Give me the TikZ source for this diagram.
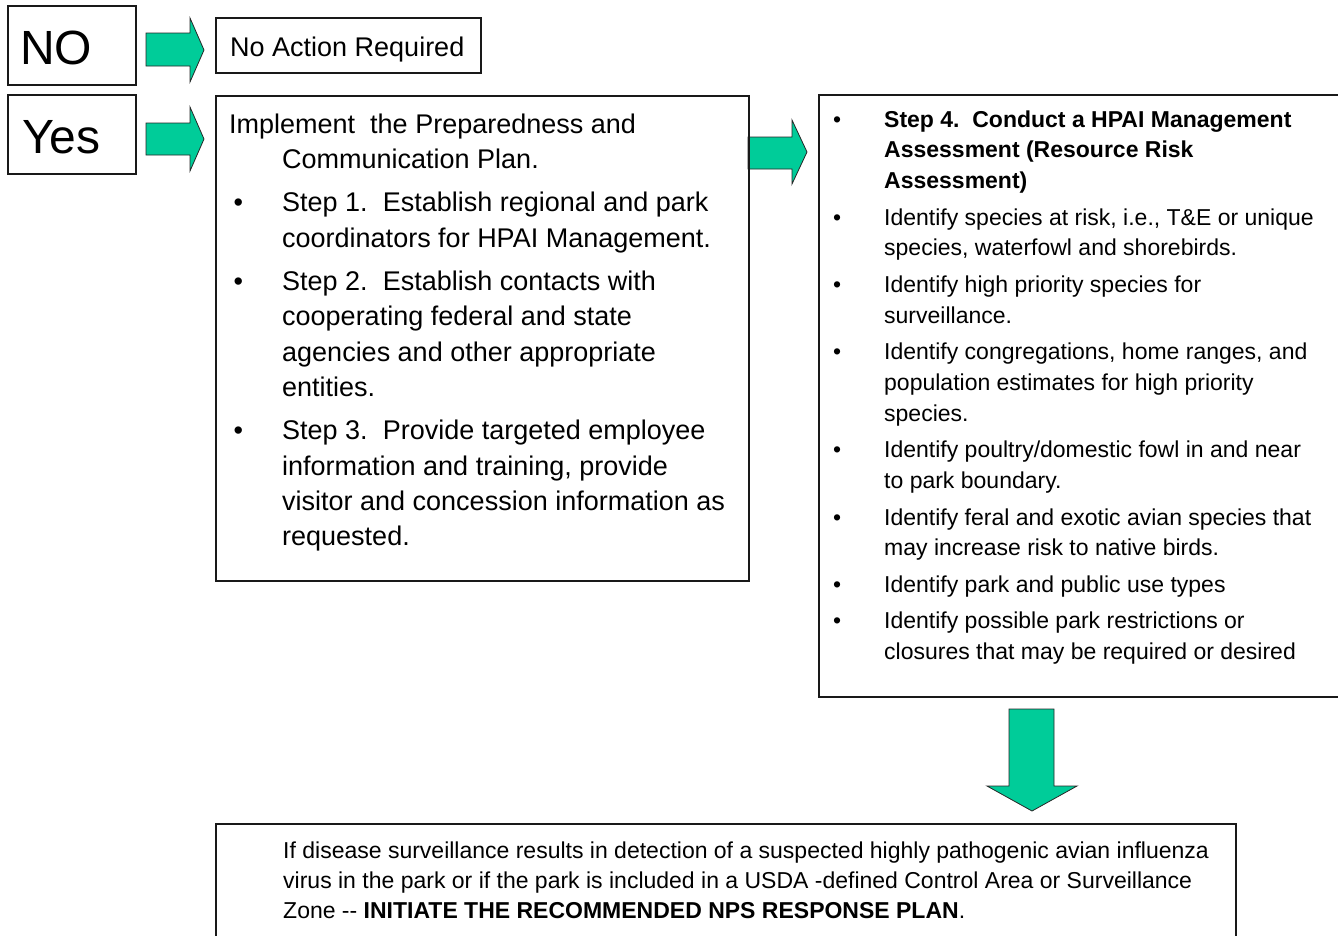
\documentclass[tikz,border=0pt]{standalone}
\usepackage{fontspec}
\setmainfont{Liberation Sans}
\definecolor{arrowgreen}{RGB}{0,204,153}
\newcommand\bl[2]{\makebox[#2][l]{\hspace*{#1}\textbullet}}
\tikzset{
  boxst/.style={draw=black!90, line width=1.5pt, inner sep=0pt, anchor=north west},
  blockarrow/.style={fill=arrowgreen, draw=black!85, line width=0.8pt, line join=miter},
  txt/.style={anchor=base west, inner sep=0pt},
}
\begin{document}
\begin{tikzpicture}[x=1pt,y=-1pt]
\useasboundingbox (0,0) rectangle (1338,935);
% block arrows
\draw[blockarrow] (146,33)--(190,33)--(190,18)--(204,50)--(190,82)--(190,66)--(146,66)--cycle;
\draw[blockarrow] (146,123)--(190,123)--(190,107)--(204,139)--(190,171)--(190,155)--(146,155)--cycle;
\draw[blockarrow] (748,137)--(792,137)--(792,120)--(807,152)--(792,184)--(792,169)--(748,169)--cycle;
\draw[blockarrow] (1009,709)--(1054,709)--(1054,786)--(1077,786)--(1032,811)--(987,786)--(1009,786)--cycle;
% boxes
\node[boxst, minimum width=128pt, minimum height=79pt] (nobox) at (7,5) {};
\node[boxst, minimum width=128pt, minimum height=79pt] (yesbox) at (7,94) {};
\node[boxst, minimum width=265pt, minimum height=55pt] (noactbox) at (215,17) {};
\node[boxst, minimum width=533pt, minimum height=485pt] (implbox) at (215,95) {};
\node[boxst, minimum width=530pt, minimum height=602pt] (stepbox) at (818,94) {};
\node[boxst, minimum width=1020pt, minimum height=130pt] (finalbox) at (215,823) {};
% texts
\node[txt, font=\fontsize{48}{48}\selectfont] (notext) at (20,64) {NO};
\node[txt, font=\fontsize{48}{48}\selectfont] (yestext) at (22,153) {Yes};
\node[txt, font=\fontsize{27}{32}\selectfont] (noacttext) at (230,56) {No Action Required};
\node[txt] (impltext) at (229,133) {\begin{minipage}[t]{520pt}\fontsize{27}{35.4}\selectfont\frenchspacing\noindent
Implement\ \ the Preparedness and\\
\hspace*{53pt}Communication Plan.\\[7.8pt]
\bl{4.3pt}{53pt}Step 1.\ \ Establish regional and park\\
\hspace*{53pt}coordinators for HPAI Management.\\[7.8pt]
\bl{4.3pt}{53pt}Step 2.\ \ Establish contacts with\\
\hspace*{53pt}cooperating federal and state\\
\hspace*{53pt}agencies and other appropriate\\
\hspace*{53pt}entities.\\[7.8pt]
\bl{4.3pt}{53pt}Step 3.\ \ Provide targeted employee\\
\hspace*{53pt}information and training, provide\\
\hspace*{53pt}visitor and concession information as\\
\hspace*{53pt}requested.
\end{minipage}};
\node[txt] (steptext) at (830,127) {\begin{minipage}[t]{505pt}\fontsize{23}{30.8}\selectfont\frenchspacing\noindent
\bl{3pt}{54pt}\textbf{Step 4.\ \ Conduct a HPAI Management}\\
\hspace*{54pt}\textbf{Assessment (Resource Risk}\\
\hspace*{54pt}\textbf{Assessment)}\\[5.7pt]
\bl{3pt}{54pt}Identify species at risk, i.e., T\&E or unique\\
\hspace*{54pt}species, waterfowl and shorebirds.\\[5.7pt]
\bl{3pt}{54pt}Identify high priority species for\\
\hspace*{54pt}surveillance.\\[5.7pt]
\bl{3pt}{54pt}Identify congregations, home ranges, and\\
\hspace*{54pt}population estimates for high priority\\
\hspace*{54pt}species.\\[5.7pt]
\bl{3pt}{54pt}Identify poultry/domestic fowl in and near\\
\hspace*{54pt}to park boundary.\\[5.7pt]
\bl{3pt}{54pt}Identify feral and exotic avian species that\\
\hspace*{54pt}may increase risk to native birds.\\[5.7pt]
\bl{3pt}{54pt}Identify park and public use types\\[5.7pt]
\bl{3pt}{54pt}Identify possible park restrictions or\\
\hspace*{54pt}closures that may be required or desired
\end{minipage}};
\node[txt] (finaltext) at (283,858) {\begin{minipage}[t]{945pt}\fontsize{23}{30}\selectfont\frenchspacing\noindent
If disease surveillance results in detection of a suspected highly pathogenic avian influenza\\
virus in the park or if the park is included in a USDA -defined Control Area or Surveillance\\
Zone -{}- \textbf{INITIATE THE RECOMMENDED NPS RESPONSE PLAN}.
\end{minipage}};
\end{tikzpicture}
\end{document}
